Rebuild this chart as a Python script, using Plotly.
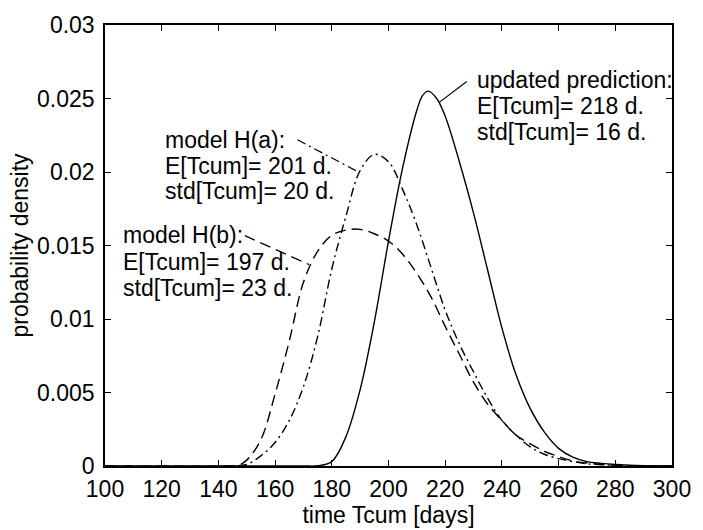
import plotly.graph_objects as go

# ---- data ----
days_upd = [100, 170, 175, 180, 185, 190, 195, 200, 205, 210, 212, 214, 217, 220, 225, 230, 235,
            240, 245, 250, 255, 260, 265, 270, 275, 280, 285, 290, 300]
dens_upd = [0, 0, 0.00002, 0.0003, 0.0020, 0.0052, 0.0098, 0.0153, 0.0203, 0.0242, 0.0252, 0.0255,
            0.0250, 0.0238, 0.0207, 0.0172, 0.0133, 0.0094, 0.0062, 0.0039, 0.0023, 0.0012, 0.0006,
            0.0003, 0.00018, 0.0001, 0.00005, 0.00002, 0]

days_a = [100, 145, 150, 155, 160, 165, 170, 175, 180, 185, 190, 195, 200, 205, 210, 215, 220, 225,
          230, 235, 240, 245, 250, 255, 260, 265, 270, 280, 290, 300]
dens_a = [0, 0, 0.0001, 0.0007, 0.0016, 0.0031, 0.0054, 0.0088, 0.0134, 0.0170, 0.0201, 0.0212,
          0.0207, 0.0188, 0.0164, 0.0135, 0.0106, 0.0083, 0.0064, 0.0046, 0.0031, 0.0021, 0.0013,
          0.0008, 0.0005, 0.0003, 0.00015, 0.00005, 0.00001, 0]

days_b = [100, 143, 147, 150, 155, 160, 165, 170, 175, 180, 185, 190, 195, 200, 205, 210, 215, 220,
          225, 230, 235, 240, 245, 250, 255, 260, 265, 270, 280, 290, 300]
dens_b = [0, 0, 0.00005, 0.0004, 0.0018, 0.0049, 0.0085, 0.0125, 0.0146, 0.0157, 0.01605, 0.0161,
          0.0158, 0.0153, 0.0144, 0.0131, 0.0115, 0.0095, 0.0076, 0.0057, 0.0042, 0.0031, 0.0021,
          0.0015, 0.0010, 0.00064, 0.00035, 0.0002, 0.00005, 0.00001, 0]

# annotation leader lines (data coordinates)
lead_a_x = [167.9, 189.4]
lead_a_y = [0.02219, 0.0200]
lead_b_x = [149.3, 172.0]
lead_b_y = [0.01567, 0.0137]
lead_u_x = [227.6, 217.8]
lead_u_y = [0.02616, 0.02472]

text_a = ["model H(a):", "E[Tcum]= 201 d.", "std[Tcum]= 20 d."]
text_b = ["model H(b):", "E[Tcum]= 197 d.", "std[Tcum]= 23 d."]
text_u = ["updated prediction:", "E[Tcum]= 218 d.", "std[Tcum]= 16 d."]

x_ticks = [100, 120, 140, 160, 180, 200, 220, 240, 260, 280, 300]
y_ticks = [0, 0.005, 0.01, 0.015, 0.02, 0.025, 0.03]
y_ticktext = ["0", "0.005", "0.01", "0.015", "0.02", "0.025", "0.03"]

FONT = "Liberation Sans, Arial, Helvetica, sans-serif"
FS = 23
DASH = "11px,6px"
DASHDOT = "9px,4px,2px,4px"

fig = go.Figure()
fig.add_trace(go.Scatter(x=days_b, y=dens_b, mode="lines", line=dict(color="black", width=1.4, dash=DASH, shape="spline", smoothing=1.0)))
fig.add_trace(go.Scatter(x=days_a, y=dens_a, mode="lines", line=dict(color="black", width=1.4, dash=DASHDOT, shape="spline", smoothing=1.0)))
fig.add_trace(go.Scatter(x=days_upd, y=dens_upd, mode="lines", line=dict(color="black", width=1.4, shape="spline", smoothing=1.0)))
fig.add_trace(go.Scatter(x=lead_a_x, y=lead_a_y, mode="lines", line=dict(color="black", width=1.2, dash=DASHDOT)))
fig.add_trace(go.Scatter(x=lead_b_x, y=lead_b_y, mode="lines", line=dict(color="black", width=1.2, dash=DASH)))
fig.add_trace(go.Scatter(x=lead_u_x, y=lead_u_y, mode="lines", line=dict(color="black", width=1.2)))

def px2val(py):
    return (470 - py) / 15100.0

def px2day(px):
    return 100 + (px - 105) / 2.875

annots = []
for lines, x0, ys in [(text_a, 164, [135, 162, 188]),
                      (text_b, 121, [233, 260, 287]),
                      (text_u, 480, [73, 100, 127])]:
    for t, py in zip(lines, ys):
        annots.append(dict(x=px2day(x0), y=px2val(py), xref="x", yref="y", text=t,
                           showarrow=False, xanchor="left", yanchor="middle",
                           font=dict(family=FONT, size=FS, color="black")))

fig.update_layout(
    width=703, height=530,
    margin=dict(l=105, r=23, t=17, b=60),
    paper_bgcolor="white", plot_bgcolor="white",
    showlegend=False,
    font=dict(family=FONT, size=FS, color="black"),
    annotations=annots,
    xaxis=dict(range=[100, 300], tickvals=x_ticks, ticks="inside", ticklen=6, tickwidth=1,
               tickcolor="black", showline=True, linecolor="black", linewidth=1.5, mirror="ticks",
               showgrid=False, zeroline=False, ticklabelstandoff=2,
               title=dict(text="time Tcum [days]", standoff=0, font=dict(size=FS)),
               tickfont=dict(size=FS)),
    yaxis=dict(range=[0, 0.03], tickvals=y_ticks, ticktext=y_ticktext, ticks="inside", ticklen=6,
               tickwidth=1, tickcolor="black", showline=True, linecolor="black", linewidth=1.5,
               mirror="ticks", showgrid=False, zeroline=False, ticklabelstandoff=4,
               title=dict(text="probability density", standoff=2, font=dict(size=FS)),
               tickfont=dict(size=FS)),
)

fig.write_html("out.html")
